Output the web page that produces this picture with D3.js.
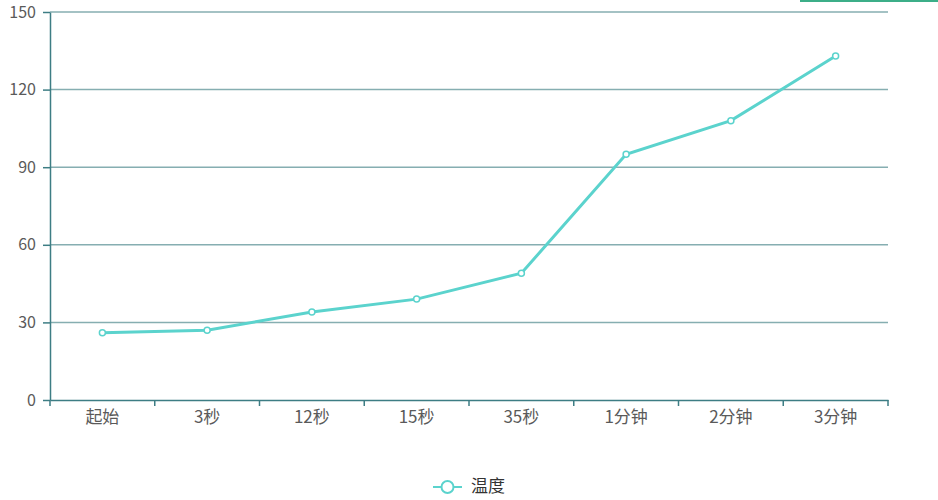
<!DOCTYPE html>
<html>
<head>
<meta charset="utf-8">
<script src="https://cdn.jsdelivr.net/npm/d3@7"></script>
<style>
  body { margin: 0; background: #fff; }
  svg { display: block; }
  svg text { font-family: "Noto Sans CJK SC", "Noto Sans", sans-serif; }
</style>
</head>
<body>
<div id="chart"></div>
<script>
'use strict';

const categories = ["起始", "3秒", "12秒", "15秒", "35秒", "1分钟", "2分钟", "3分钟"];
const temperature = [26, 27, 34, 39, 49, 95, 108, 133];
const yTicks = [0, 30, 60, 90, 120, 150];
const seriesName = "温度";

const width = 938, height = 500;
const margin = {top: 12, right: 50, bottom: 100, left: 50};
const lineColor = "#5bd3cd";
const axisColor = "#3d7d84";
const gridColor = "#86aeb1";
const textColor = "#5a5a5a";

const svg = d3.select("#chart")
  .append("svg")
  .attr("width", width)
  .attr("height", height);

// top-right leftover bar
svg.append("rect")
  .attr("x", 800).attr("y", 0)
  .attr("width", 138).attr("height", 2)
  .attr("fill", "#3cae88");

const x = d3.scaleBand()
  .domain(categories)
  .range([margin.left, width - margin.right]);

const y = d3.scaleLinear()
  .domain([0, 150])
  .range([height - margin.bottom, margin.top]);

// grid
svg.append("g")
  .selectAll("line")
  .data(yTicks.filter(d => d > 0))
  .enter()
  .append("line")
  .attr("x1", margin.left)
  .attr("x2", width - margin.right)
  .attr("y1", d => y(d))
  .attr("y2", d => y(d))
  .attr("stroke", gridColor)
  .attr("stroke-width", 1.5);

// y axis
const yAxis = svg.append("g")
  .attr("transform", `translate(${margin.left},0)`)
  .call(d3.axisLeft(y).tickValues(yTicks).tickSize(7).tickPadding(7).tickSizeOuter(0));
yAxis.select(".domain").attr("stroke", axisColor).attr("stroke-width", 1.5);
yAxis.selectAll(".tick line").attr("stroke", axisColor).attr("stroke-width", 1.5);
yAxis.selectAll("text").attr("fill", textColor).attr("font-size", 16);

// x axis
const xAxis = svg.append("g")
  .attr("transform", `translate(0,${y(0)})`)
  .call(d3.axisBottom(x).tickSize(0).tickPadding(11));
xAxis.select(".domain").attr("stroke", axisColor).attr("stroke-width", 1.5);
xAxis.selectAll("text").attr("fill", textColor).attr("font-size", 17);

// band boundary ticks
const bounds = categories.map(c => x(c)).concat(x(categories[categories.length - 1]) + x.bandwidth());
svg.append("g")
  .selectAll("line")
  .data(bounds)
  .enter()
  .append("line")
  .attr("x1", d => d).attr("x2", d => d)
  .attr("y1", y(0)).attr("y2", y(0) + 6)
  .attr("stroke", axisColor)
  .attr("stroke-width", 1.5);

// line
const line = d3.line()
  .x((d, i) => x(categories[i]) + x.bandwidth() / 2)
  .y(d => y(d));

svg.append("path")
  .datum(temperature)
  .attr("fill", "none")
  .attr("stroke", lineColor)
  .attr("stroke-width", 3)
  .attr("d", line);

svg.append("g")
  .selectAll("circle")
  .data(temperature)
  .enter()
  .append("circle")
  .attr("cx", (d, i) => x(categories[i]) + x.bandwidth() / 2)
  .attr("cy", d => y(d))
  .attr("r", 3)
  .attr("fill", "#fff")
  .attr("stroke", lineColor)
  .attr("stroke-width", 1.5);

// legend
const legend = svg.append("g").attr("transform", "translate(433,487)");
legend.append("line")
  .attr("x1", 0).attr("x2", 29)
  .attr("y1", 0).attr("y2", 0)
  .attr("stroke", lineColor).attr("stroke-width", 2);
legend.append("circle")
  .attr("cx", 14.5).attr("cy", 0).attr("r", 6)
  .attr("fill", "#fff")
  .attr("stroke", lineColor).attr("stroke-width", 2);
legend.append("text")
  .attr("x", 38).attr("y", -1)
  .attr("dy", "0.35em")
  .attr("fill", "#333")
  .attr("font-size", 17)
  .text(seriesName);
</script>
</body>
</html>
